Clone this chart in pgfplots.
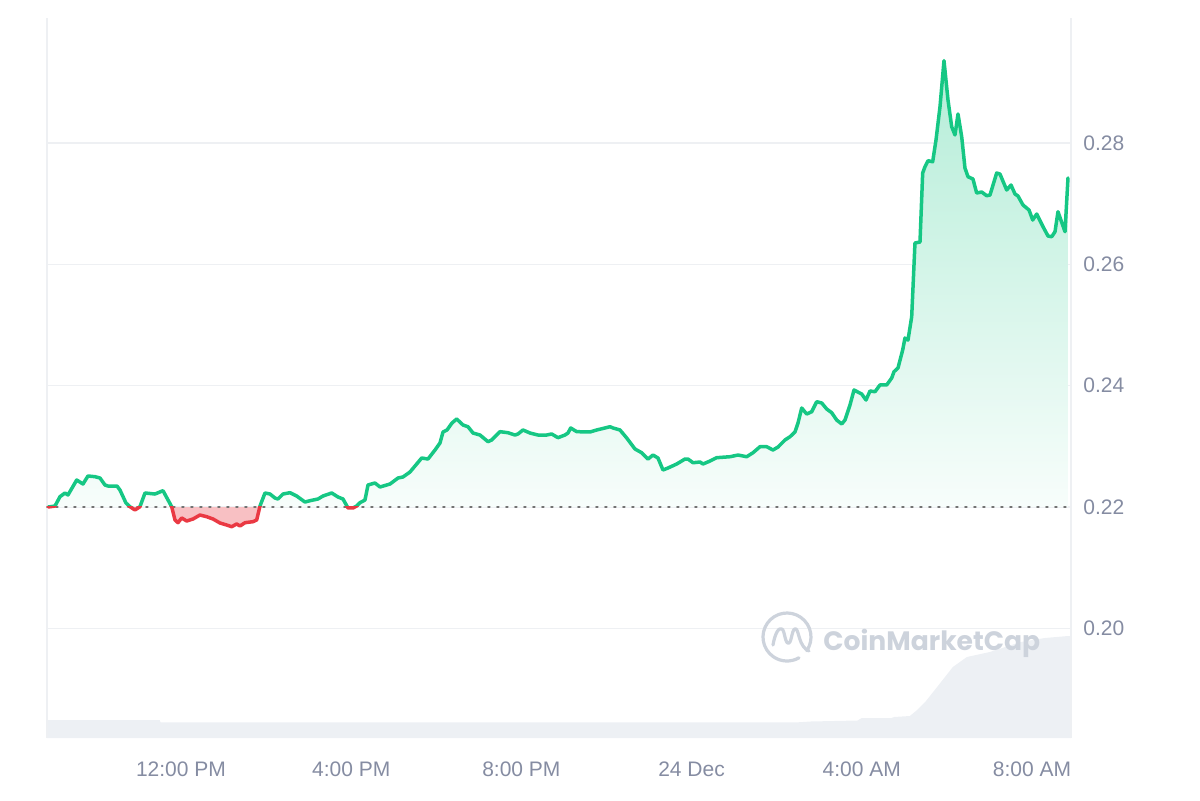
\documentclass[border=0pt]{standalone}
\usepackage{fontspec}
\setmainfont{Liberation Sans}
\newfontfamily\cmcfont{Poppins}
\usepackage{pgfplots}
\usepackage{pgfplotstable}
\pgfplotsset{compat=1.18}
\definecolor{cmcgreen}{HTML}{16C784}
\definecolor{cmcred}{HTML}{EA3943}
\definecolor{gridc}{HTML}{EEF0F3}
\definecolor{labelc}{HTML}{858CA2}
\definecolor{volc}{HTML}{EDF0F4}
\definecolor{wmc}{HTML}{CDD3DC}

\pgfplotstableread{
x y
8.881 0.22000
9.039 0.22016
9.156 0.22170
9.274 0.22231
9.344 0.22198
9.549 0.22445
9.697 0.22379
9.814 0.22511
9.979 0.22500
10.096 0.22478
10.214 0.22363
10.284 0.22346
10.496 0.22346
10.566 0.22280
10.707 0.22066
10.801 0.22005
10.919 0.21951
11.036 0.22005
11.154 0.22231
11.389 0.22214
11.577 0.22269
11.781 0.22005
11.859 0.21786
11.929 0.21741
12.016 0.21819
12.134 0.21769
12.282 0.21802
12.447 0.21868
12.604 0.21840
12.752 0.21802
12.917 0.21736
13.074 0.21703
13.192 0.21675
13.309 0.21720
13.387 0.21687
13.504 0.21741
13.692 0.21758
13.779 0.21786
13.857 0.22016
13.974 0.22231
14.092 0.22214
14.209 0.22148
14.280 0.22132
14.397 0.22214
14.562 0.22236
14.719 0.22181
14.914 0.22082
15.032 0.22104
15.220 0.22132
15.337 0.22181
15.542 0.22231
15.690 0.22165
15.807 0.22132
15.925 0.21984
16.042 0.21984
16.129 0.22016
16.207 0.22071
16.324 0.22115
16.395 0.22363
16.559 0.22396
16.677 0.22330
16.912 0.22379
17.100 0.22478
17.217 0.22495
17.382 0.22577
17.657 0.22808
17.805 0.22791
17.970 0.22940
18.087 0.23055
18.158 0.23237
18.252 0.23270
18.369 0.23385
18.479 0.23451
18.628 0.23352
18.745 0.23324
18.863 0.23220
19.027 0.23187
19.215 0.23077
19.302 0.23105
19.497 0.23242
19.685 0.23225
19.850 0.23187
19.920 0.23204
20.038 0.23270
20.202 0.23220
20.390 0.23187
20.595 0.23187
20.712 0.23204
20.860 0.23143
21.025 0.23187
21.095 0.23220
21.159 0.23303
21.300 0.23242
21.612 0.23237
21.770 0.23270
21.965 0.23303
22.082 0.23324
22.153 0.23303
22.317 0.23270
22.475 0.23138
22.670 0.22956
22.827 0.22895
22.975 0.22791
23.093 0.22857
23.210 0.22808
23.328 0.22610
23.445 0.22643
23.650 0.22709
23.845 0.22791
23.916 0.22791
24.033 0.22730
24.198 0.22742
24.268 0.22709
24.433 0.22758
24.590 0.22813
24.903 0.22829
25.091 0.22857
25.295 0.22829
25.443 0.22895
25.608 0.22994
25.765 0.22994
25.913 0.22940
26.031 0.22989
26.195 0.23105
26.313 0.23159
26.430 0.23237
26.501 0.23385
26.588 0.23632
26.705 0.23533
26.823 0.23571
26.940 0.23736
27.058 0.23715
27.175 0.23616
27.293 0.23555
27.410 0.23434
27.528 0.23369
27.605 0.23434
27.723 0.23682
27.817 0.23929
27.998 0.23863
28.099 0.23764
28.193 0.23913
28.310 0.23901
28.428 0.24012
28.585 0.24012
28.703 0.24127
28.757 0.24231
28.851 0.24292
28.961 0.24589
29.015 0.24786
29.086 0.24753
29.173 0.25138
29.250 0.26353
29.368 0.26369
29.431 0.27507
29.485 0.27611
29.556 0.27710
29.666 0.27693
29.744 0.28051
29.838 0.28600
29.932 0.29359
30.026 0.28711
30.113 0.28270
30.190 0.28134
30.261 0.28480
30.348 0.28106
30.425 0.27589
30.496 0.27446
30.613 0.27408
30.700 0.27177
30.818 0.27194
30.935 0.27133
31.013 0.27144
31.170 0.27507
31.248 0.27490
31.405 0.27227
31.507 0.27309
31.601 0.27161
31.671 0.27128
31.789 0.26979
31.930 0.26897
32.017 0.26732
32.111 0.26831
32.259 0.26622
32.377 0.26468
32.464 0.26457
32.541 0.26539
32.611 0.26869
32.776 0.26539
32.846 0.27425
}\price

\pgfplotstableread{
x v
8.851 18
11.50 18
11.52 15.7
26.5 15.7
26.8 16.5
27.9 17.5
28.0 20
28.7 20
28.76 21
29.13 22
29.3 28
29.49 36
29.77 51
30.14 71
30.47 81
31.01 86
31.74 96
32.3 100
32.85 102
32.917 102
}\volume

\begin{document}
\begin{tikzpicture}
\path[use as bounding box] (-23.5pt,-31pt) rectangle (576.5pt,369pt);

% volume
\begin{axis}[at={(0,0)}, anchor=south west, scale only axis,
  width=512pt, height=360pt, xmin=8.851, xmax=32.917, ymin=0, ymax=720,
  hide axis]
\addplot[draw=none, fill=volc] table[x=x,y=v] {\volume} \closedcycle;
\end{axis}

% price
\begin{axis}[at={(0,0)}, anchor=south west, scale only axis,
  width=512pt, height=360pt,
  xmin=8.851, xmax=32.917, ymin=0.18191, ymax=0.30063,
  axis line style={draw=none},
  major tick length=0pt,
  xtick={12,16,20,24,28,32},
  xticklabels={12:00 PM,4:00 PM,8:00 PM,24 Dec,4:00 AM,8:00 AM},
  ytick={0.20,0.22,0.24,0.26,0.28},
  yticklabel pos=right,
  ymajorgrids, major grid style={gridc, line width=0.7pt},
  /pgf/number format/assume math mode=true,
  yticklabel style={/pgf/number format/fixed, /pgf/number format/fixed zerofill,
    /pgf/number format/precision=2, anchor=west, inner sep=0pt, xshift=6pt},
  xticklabel style={anchor=base, inner sep=0pt, yshift=-19pt},
  tick label style={font=\fontsize{10.5}{12}\selectfont, text=labelc},
  clip=false,
]
\draw[gridc, line width=0.7pt] (rel axis cs:0,0) -- (rel axis cs:0,1);
\draw[gridc, line width=0.7pt] (rel axis cs:1,0) -- (rel axis cs:1,1);

\begin{scope}
\clip (axis cs:8.851,0.22006) rectangle (axis cs:32.917,0.30063);
\addplot[draw=none, top color=cmcgreen!32!white, bottom color=cmcgreen!2!white]
  table[x=x,y=y] {\price} -- (axis cs:32.846,0.22) -- (axis cs:8.881,0.22) -- cycle;
\end{scope}
\begin{scope}
\clip (axis cs:8.851,0.21) rectangle (axis cs:32.917,0.21994);
\addplot[draw=none, fill=cmcred!32!white]
  table[x=x,y=y] {\price} -- (axis cs:32.846,0.22) -- (axis cs:8.881,0.22) -- cycle;
\end{scope}

\draw[color=black!55, line width=0.9pt, dash pattern=on 0.9pt off 3.6pt, line cap=round]
  (axis cs:8.851,0.22) -- (axis cs:32.917,0.22);

\begin{scope}
\clip (axis cs:8.5,0.22) rectangle (axis cs:33.2,0.30063);
\addplot[cmcgreen, line width=1.75pt, line join=round, line cap=round] table[x=x,y=y] {\price};
\end{scope}
\begin{scope}
\clip (axis cs:8.5,0.20) rectangle (axis cs:33.2,0.22);
\addplot[cmcred, line width=1.75pt, line join=round, line cap=round] table[x=x,y=y] {\price};
\end{scope}
\end{axis}

% watermark
\begin{scope}[shift={(370pt,50.5pt)}, wmc, line width=1.6pt, line cap=round, line join=round]
\draw (-35:12pt) arc (-35:300:12pt);
\draw (-7pt,-4pt) .. controls (-6pt,2pt) and (-4pt,5pt) .. (-2.5pt,4pt)
  .. controls (-1pt,3pt) and (-1pt,-4pt) .. (1pt,-3pt)
  .. controls (2.5pt,-2pt) and (2.5pt,5pt) .. (4.5pt,4pt)
  .. controls (6pt,3pt) and (6pt,-5pt) .. (11pt,-7pt);
\end{scope}
\node[anchor=base west, inner sep=0pt, text=wmc] at (388pt,44pt)
  {\cmcfont\bfseries\fontsize{13.3}{15}\selectfont CoinMarketCap};
\end{tikzpicture}
\end{document}
